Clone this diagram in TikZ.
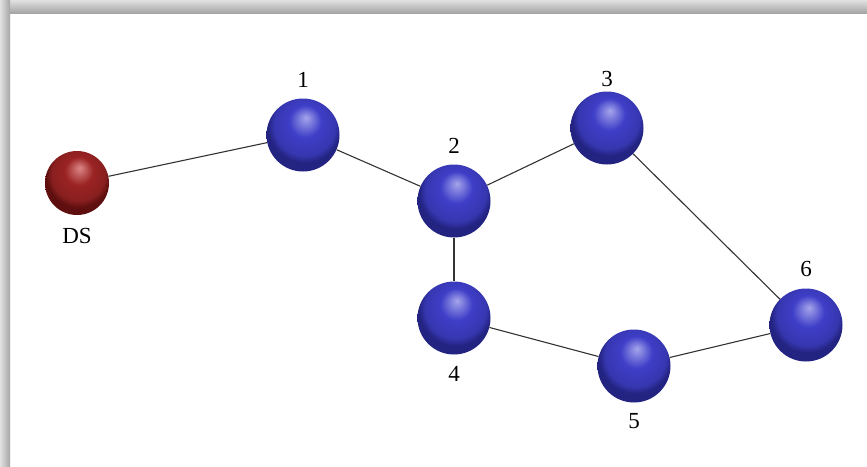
\documentclass[tikz,border=0pt]{standalone}
\usepackage{fontspec}
\setmainfont{Liberation Serif}
\usetikzlibrary{shadings, positioning}
\definecolor{nodehigh}{RGB}{165,165,235}
\definecolor{nodecolor}{RGB}{62,62,200}
\definecolor{nodedark}{RGB}{35,35,130}
\definecolor{sinkhigh}{RGB}{220,135,135}
\definecolor{sinkcolor}{RGB}{155,35,35}
\definecolor{sinkdark}{RGB}{95,15,15}
\definecolor{framelight}{RGB}{225,225,225}
\definecolor{framedark}{RGB}{165,165,165}
\pgfdeclareradialshading{nodeball}{\pgfpoint{2bp}{12bp}}{color(0bp)=(nodehigh); color(11bp)=(nodecolor); color(21bp)=(nodecolor!88!black); color(25bp)=(nodedark); color(50bp)=(nodedark)}
\pgfdeclareradialshading{sinkball}{\pgfpoint{2bp}{12bp}}{color(0bp)=(sinkhigh); color(11bp)=(sinkcolor); color(21bp)=(sinkcolor!88!black); color(25bp)=(sinkdark); color(50bp)=(sinkdark)}

\begin{document}
\begin{tikzpicture}[
    x=1pt, y=1pt,
    sensor/.style={circle, shading=nodeball, minimum size=73pt, inner sep=0pt},
    sink/.style={circle, shading=sinkball, minimum size=64pt, inner sep=0pt},
    tag/.style={font=\fontsize{23}{26}\selectfont, inner sep=1pt},
    link/.style={draw=black!80, line width=1.1pt},
    node distance=10pt
]

    % Frame
    \useasboundingbox (0,0) rectangle (867,-466);
    \fill[white] (0,0) rectangle (867,-466);
    \shade[top color=framelight, bottom color=framedark] (0,0) rectangle (867,-13);
    \shade[left color=framelight, right color=framedark] (0,0) rectangle (10,-466);

    % Sink
    \node[sink] (ds) at (77,-183) {};
    \node[tag, below=12pt of ds] (tds) {DS};

    % Sensors
    \node[sensor] (n1) at (303,-135) {};
    \node[sensor] (n2) at (454,-201) {};
    \node[sensor] (n3) at (607,-128) {};
    \node[sensor] (n4) at (454,-318) {};
    \node[sensor] (n5) at (634,-366) {};
    \node[sensor] (n6) at (806,-325) {};

    % Sensor numbers
    \node[tag, above=of n1] (t1) {1};
    \node[tag, above=of n2] (t2) {2};
    \node[tag, above=3pt of n3] (t3) {3};
    \node[tag, below=of n4] (t4) {4};
    \node[tag, below=of n5] (t5) {5};
    \node[tag, above=of n6] (t6) {6};

    % Links
    \draw[link] (ds) -- (n1);
    \draw[link] (n1) -- (n2);
    \draw[link] (n2) -- (n3);
    \draw[link] (n3) -- (n6);
    \draw[link] (n2) -- (n4);
    \draw[link] (n4) -- (n5);
    \draw[link] (n5) -- (n6);

\end{tikzpicture}
\end{document}
